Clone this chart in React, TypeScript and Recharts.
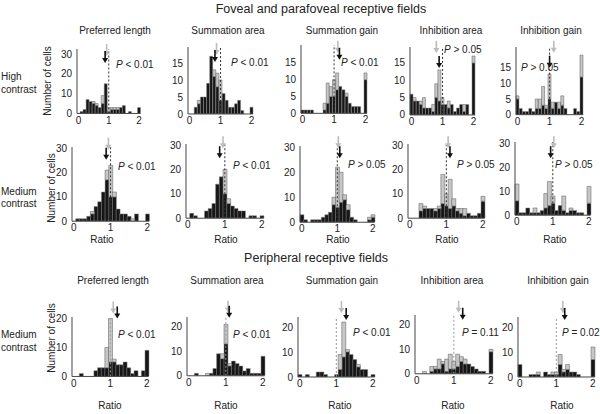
import { BarChart, Bar, XAxis, YAxis, ReferenceLine, ReferenceDot } from 'recharts';

const FONT = '"Liberation Sans", Arial, Helvetica, sans-serif';

// bin centres of every histogram (width 0.1, last bin holds ratios >= 2)
const bins = [0, 0.1, 0.2, 0.3, 0.4, 0.5, 0.6, 0.7, 0.8, 0.9, 1, 1.1, 1.2, 1.3, 1.4, 1.5, 1.6, 1.7, 1.8, 1.9, 2];
const measures = ['Preferred length', 'Summation area', 'Summation gain', 'Inhibition area', 'Inhibition gain'];

// foveal / parafoveal, high contrast
const hcLengthBlack = [0, 1, 2, 7, 6, 5, 4, 3, 5, 15, 1, 2, 2, 2, 3, 4, 0, 1, 0, 0, 3];
const hcLengthGray = [0, 0, 0, 0, 0, 6, 5, 0, 9, 15, 3, 3, 3, 3, 0, 0, 0, 0, 0, 0, 0];
const hcSumAreaBlack = [0, 0, 2, 3, 5, 5, 9, 17, 11, 8, 4, 6, 4, 2, 2, 3, 4, 1, 0, 0, 2];
const hcSumAreaGray = [0, 0, 0, 4, 0, 0, 0, 0, 13, 12, 10, 0, 0, 0, 0, 3, 0, 0, 0, 0, 0];
const hcSumGainBlack = [1, 1, 1, 1, 0, 0, 0, 1, 3, 5, 5, 7, 8, 7, 5, 3, 2, 2, 2, 0, 10];
const hcSumGainGray = [0, 0, 0, 0, 0, 0, 0, 3, 9, 8, 10, 12, 8, 7, 6, 0, 0, 0, 0, 0, 12];
const hcInhAreaBlack = [6, 4, 4, 3, 2, 2, 2, 1, 5, 4, 3, 3, 2, 3, 1, 2, 3, 1, 3, 0, 15];
const hcInhAreaGray = [0, 5, 0, 4, 5, 0, 0, 3, 9, 13, 5, 3, 4, 0, 0, 0, 3, 3, 0, 0, 17];
const hcInhGainBlack = [5, 2, 1, 1, 2, 1, 2, 2, 3, 2, 5, 2, 4, 2, 3, 2, 0, 0, 2, 1, 12];
const hcInhGainGray = [6, 0, 0, 0, 0, 0, 5, 5, 9, 3, 13, 4, 4, 4, 6, 0, 0, 0, 0, 0, 19];

// foveal / parafoveal, medium contrast
const mcLengthBlack = [0, 1, 1, 1, 2, 3, 6, 8, 12, 17, 10, 10, 5, 3, 3, 2, 0, 3, 0, 0, 3];
const mcLengthGray = [0, 0, 0, 0, 0, 4, 0, 0, 0, 21, 23, 12, 0, 0, 0, 0, 1, 0, 0, 0, 0];
const mcSumAreaBlack = [0, 2, 1, 0, 0, 3, 4, 6, 14, 17, 10, 6, 5, 4, 3, 3, 0, 1, 1, 0, 1];
const mcSumAreaGray = [0, 0, 0, 0, 0, 0, 0, 0, 0, 0, 20, 8, 0, 0, 0, 0, 0, 0, 0, 0, 0];
const mcSumGainBlack = [3, 1, 0, 1, 1, 1, 2, 3, 4, 7, 6, 8, 9, 5, 2, 1, 0, 0, 0, 1, 2];
const mcSumGainGray = [0, 0, 0, 0, 0, 0, 0, 0, 4, 10, 22, 20, 11, 7, 0, 0, 0, 0, 0, 2, 3];
const mcInhAreaBlack = [0, 0, 0, 3, 4, 4, 4, 3, 4, 6, 5, 4, 5, 3, 2, 1, 2, 1, 1, 2, 7];
const mcInhAreaGray = [0, 0, 0, 6, 5, 0, 0, 4, 5, 18, 10, 16, 8, 4, 4, 4, 0, 0, 0, 0, 9];
const mcInhGainBlack = [6, 1, 1, 3, 1, 1, 1, 2, 3, 4, 5, 2, 4, 2, 1, 2, 2, 1, 1, 0, 5];
const mcInhGainGray = [13, 0, 0, 0, 0, 3, 0, 0, 9, 14, 8, 0, 4, 8, 0, 3, 0, 0, 0, 0, 12];

// peripheral, medium contrast
const pfLengthBlack = [0, 0, 1, 0, 0, 0, 2, 3, 3, 3, 5, 5, 4, 4, 5, 3, 1, 2, 0, 2, 9];
const pfLengthGray = [0, 0, 0, 0, 0, 0, 0, 3, 0, 10, 20, 6, 0, 0, 0, 0, 0, 0, 0, 0, 0];
const pfSumAreaBlack = [0, 0, 1, 0, 0, 0, 1, 3, 9, 7, 13, 4, 6, 5, 4, 2, 3, 1, 1, 1, 8];
const pfSumAreaGray = [0, 0, 0, 0, 0, 1, 0, 0, 0, 9, 21, 5, 0, 0, 0, 0, 0, 0, 0, 0, 0];
const pfSumGainBlack = [1, 0, 1, 0, 0, 2, 2, 1, 0, 0, 1, 3, 8, 10, 9, 7, 4, 3, 3, 0, 1];
const pfSumGainGray = [0, 0, 0, 0, 0, 0, 0, 0, 0, 0, 1, 9, 22, 11, 9, 0, 5, 0, 0, 0, 0];
const pfInhAreaBlack = [0, 0, 0, 0, 1, 2, 2, 4, 1, 2, 2, 3, 5, 4, 4, 3, 2, 1, 1, 0, 9];
const pfInhAreaGray = [0, 0, 1, 0, 3, 3, 6, 5, 6, 8, 5, 8, 7, 6, 4, 3, 0, 0, 0, 0, 10];
const pfInhGainBlack = [5, 0, 0, 1, 1, 1, 0, 2, 1, 1, 1, 5, 2, 3, 2, 2, 1, 0, 0, 0, 7];
const pfInhGainGray = [0, 0, 0, 0, 0, 2, 0, 0, 0, 2, 2, 9, 3, 5, 0, 0, 0, 0, 0, 0, 12];

// medians (arrows)
const hcMedBlack = [0.88, 0.82, 1.17, 0.89, 1.0];
const hcMedGray = [0.93, 0.87, 1.12, 0.8, 1.13];
const mcMedBlack = [0.88, 0.86, 1.07, 1.1, 0.94];
const mcMedGray = [0.94, 0.95, 1.03, 1.05, 1.03];
const pfMedBlack = [1.19, 1.09, 1.27, 1.24, 1.23];
const pfMedGray = [1.08, 1.06, 1.14, 1.13, 1.18];

const hcP = ['P < 0.01', 'P < 0.01', 'P < 0.01', 'P > 0.05', 'P > 0.05'];
const mcP = ['P < 0.01', 'P < 0.01', 'P > 0.05', 'P > 0.05', 'P > 0.05'];
const pfP = ['P < 0.01', 'P < 0.01', 'P < 0.01', 'P = 0.11', 'P = 0.02'];

// page layout: x0/x2 = pixel of ratio 0/2, y0 = pixel of count 0, tp = pixel of count tv
type Lay = {
  x0: number; x2: number; y0: number; tv: number; tp: number; yMax: number; yTicks: number[];
  gTip: number; bTip: number; px: number; py: number; dash: string;
};

const L = (x0: number, x2: number, y0: number, tv: number, tp: number, yMax: number, yTicks: number[],
  gTip: number, bTip: number, px: number, py: number, dash = '#333'): Lay =>
  ({ x0, x2, y0, tv, tp, yMax, yTicks, gTip, bTip, px, py, dash });

const t5 = [0, 5, 10, 15];
const t30 = [0, 10, 20, 30];
const t20 = [0, 10, 20];

const rows = [
  {
    black: [hcLengthBlack, hcSumAreaBlack, hcSumGainBlack, hcInhAreaBlack, hcInhGainBlack],
    gray: [hcLengthGray, hcSumAreaGray, hcSumGainGray, hcInhAreaGray, hcInhGainGray],
    medB: hcMedBlack, medG: hcMedGray, p: hcP,
    lay: [
      L(78.5, 139, 113.5, 30, 54, 32.5, t30, 56, 63, 116, 65),
      L(190, 252, 114, 15, 63, 19.7, t5, 55, 62, 231, 63),
      L(303, 366, 113.5, 15, 63, 20.3, t5, 53, 60, 341, 63),
      L(412, 474, 115, 15, 63, 19.6, t5, 53, 68, 444, 50),
      L(518, 582, 115, 15, 68, 21.6, t5, 53, 68, 521, 68),
    ],
  },
  {
    black: [mcLengthBlack, mcSumAreaBlack, mcSumGainBlack, mcInhAreaBlack, mcInhGainBlack],
    gray: [mcLengthGray, mcSumAreaGray, mcSumGainGray, mcInhAreaGray, mcInhGainGray],
    medB: mcMedBlack, medG: mcMedGray, p: mcP,
    lay: [
      L(73.5, 147, 221.5, 30, 148.5, 30.5, t30, 150, 160, 118, 167),
      L(188, 262, 218, 30, 145, 30.5, t30, 148, 158, 233, 166),
      L(302, 373, 222, 30, 147, 30.5, t30, 148, 158, 348, 165),
      L(410, 483, 218, 30, 145, 30.5, t30, 148, 158, 457, 165),
      L(517, 589, 215, 30, 143, 30.5, t30, 148, 158, 555, 165),
    ],
  },
  {
    black: [pfLengthBlack, pfSumAreaBlack, pfSumGainBlack, pfInhAreaBlack, pfInhGainBlack],
    gray: [pfLengthGray, pfSumAreaGray, pfSumGainGray, pfInhAreaGray, pfInhGainGray],
    medB: pfMedBlack, medG: pfMedGray, p: pfP,
    lay: [
      L(74, 147, 376, 20, 318, 20.5, t20, 313, 318, 118, 335, '#999'),
      L(189, 263, 376, 20, 327, 24, t20, 313, 318, 233, 335, '#999'),
      L(300, 373, 377, 20, 327, 24, t20, 313, 320, 353, 333, '#999'),
      L(417, 491, 374, 20, 325, 24, t20, 313, 320, 462, 333, '#999'),
      L(520, 593, 377, 20, 327, 24, t20, 313, 320, 562, 333, '#999'),
    ],
  },
];

const XMIN = -0.05;
const XMAX = 2.05;
const AX = 28;
const MT = 26;
const XH = 16;
const MR = 2;

function arrow(color: string, tipOffset: number) {
  return (props: any) => {
    const { cx, cy } = props;
    const ty = cy + tipOffset;
    return (
      <g>
        <line x1={cx} y1={ty - 12} x2={cx} y2={ty - 3} stroke={color} strokeWidth={1.6} />
        <path d={`M${cx - 3},${ty - 5} L${cx + 3},${ty - 5} L${cx},${ty} Z`} fill={color} />
      </g>
    );
  };
}

function Hist({ black, gray, medB, medG, lay }: { black: number[]; gray: number[]; medB: number; medG: number; lay: Lay }) {
  const ppx = (lay.x2 - lay.x0) / 2;
  const ppy = (lay.y0 - lay.tp) / lay.tv;
  const plotLeft = lay.x0 + XMIN * ppx;
  const plotW = (XMAX - XMIN) * ppx;
  const plotH = lay.yMax * ppy;
  const plotTop = lay.y0 - plotH;
  const data = bins.map((x, i) => ({ x, b: black[i], g: Math.max(gray[i] - black[i], 0) }));
  const tick = { fontSize: 10, fill: '#222', fontFamily: FONT };

  return (
    <div style={{ position: 'absolute', left: plotLeft - AX, top: plotTop - MT }}>
      <BarChart
        width={AX + plotW + MR}
        height={MT + plotH + XH}
        data={data}
        margin={{ top: MT, right: MR, bottom: 0, left: 0 }}
        barCategoryGap={0}
        barGap={0}
      >
        <XAxis
          xAxisId="num"
          dataKey="x"
          type="number"
          domain={[XMIN, XMAX]}
          allowDataOverflow
          ticks={[0, 1, 2]}
          interval={0}
          height={XH}
          tickLine={false}
          tickSize={2}
          tickMargin={1}
          stroke="#444"
          tick={tick}
        />
        <XAxis dataKey="x" type="category" hide height={0} />
        <YAxis
          type="number"
          domain={[0, lay.yMax]}
          allowDataOverflow
          ticks={lay.yTicks}
          interval={0}
          width={AX}
          tickLine={false}
          tickSize={2}
          tickMargin={3}
          stroke="#444"
          tick={tick}
        />
        <Bar dataKey="b" stackId="s" fill="#161616" stroke="#8c8c8c" strokeWidth={0.5} isAnimationActive={false} />
        <Bar dataKey="g" stackId="s" fill="#c6c6c6" stroke="#5a5a5a" strokeWidth={0.5} isAnimationActive={false} />
        <ReferenceLine xAxisId="num" x={1} stroke={lay.dash} strokeDasharray="2 2" strokeWidth={1} />
        <ReferenceDot xAxisId="num" x={medG} y={lay.yMax} r={0} shape={arrow('#bcbcbc', lay.gTip - plotTop)} />
        <ReferenceDot xAxisId="num" x={medB} y={lay.yMax} r={0} shape={arrow('#111', lay.bTip - plotTop)} />
      </BarChart>
    </div>
  );
}

function Txt({ x, y, size = 10, center = true, children, rotate = false }: any) {
  return (
    <div
      style={{
        position: 'absolute',
        left: x,
        top: y,
        fontSize: size,
        lineHeight: `${size}px`,
        whiteSpace: 'nowrap',
        color: '#222',
        transform: `${center ? 'translate(-50%,-50%)' : 'translate(0,-50%)'}${rotate ? ' rotate(-90deg)' : ''}`,
      }}
    >
      {children}
    </div>
  );
}

const titleX = [[115, 228, 342, 451, 551], [113, 227, 342, 452, 558]];
const ratioX = [[102, 226, 338, 447, 555], [110, 226, 340, 453, 562]];

export default function App() {
  return (
    <div style={{ position: 'absolute', left: 0, top: 0, width: 600, height: 414, background: '#fff', fontFamily: FONT, overflow: 'hidden' }}>
      {rows.map((r, ri) =>
        r.lay.map((lay, i) => (
          <Hist key={`h${ri}-${i}`} black={r.black[i]} gray={r.gray[i]} medB={r.medB[i]} medG={r.medG[i]} lay={lay} />
        ))
      )}

      <Txt x={321} y={9} size={12.5}>Foveal and parafoveal receptive fields</Txt>
      <Txt x={316} y={258} size={12.5}>Peripheral receptive fields</Txt>

      {measures.map((m, i) => <Txt key={'t1' + i} x={titleX[0][i]} y={31}>{m}</Txt>)}
      {measures.map((m, i) => <Txt key={'t3' + i} x={titleX[1][i]} y={281}>{m}</Txt>)}
      {measures.map((_, i) => <Txt key={'r2' + i} x={ratioX[0][i]} y={240}>Ratio</Txt>)}
      {measures.map((_, i) => <Txt key={'r3' + i} x={ratioX[1][i]} y={406}>Ratio</Txt>)}

      <Txt x={1} y={77} center={false}>High</Txt>
      <Txt x={1} y={90} center={false}>contrast</Txt>
      <Txt x={1} y={192} center={false}>Medium</Txt>
      <Txt x={1} y={204} center={false}>contrast</Txt>
      <Txt x={1} y={335} center={false}>Medium</Txt>
      <Txt x={1} y={348} center={false}>contrast</Txt>

      <Txt x={48} y={81} rotate>Number of cells</Txt>
      <Txt x={52} y={188} rotate>Number of cells</Txt>
      <Txt x={52} y={338} rotate>Number of cells</Txt>

      {rows.map((r, ri) =>
        r.lay.map((lay, i) => (
          <Txt key={`p${ri}-${i}`} x={lay.px} y={lay.py} size={10} center={false}>
            <i>P</i>{r.p[i].slice(1)}
          </Txt>
        ))
      )}
    </div>
  );
}
